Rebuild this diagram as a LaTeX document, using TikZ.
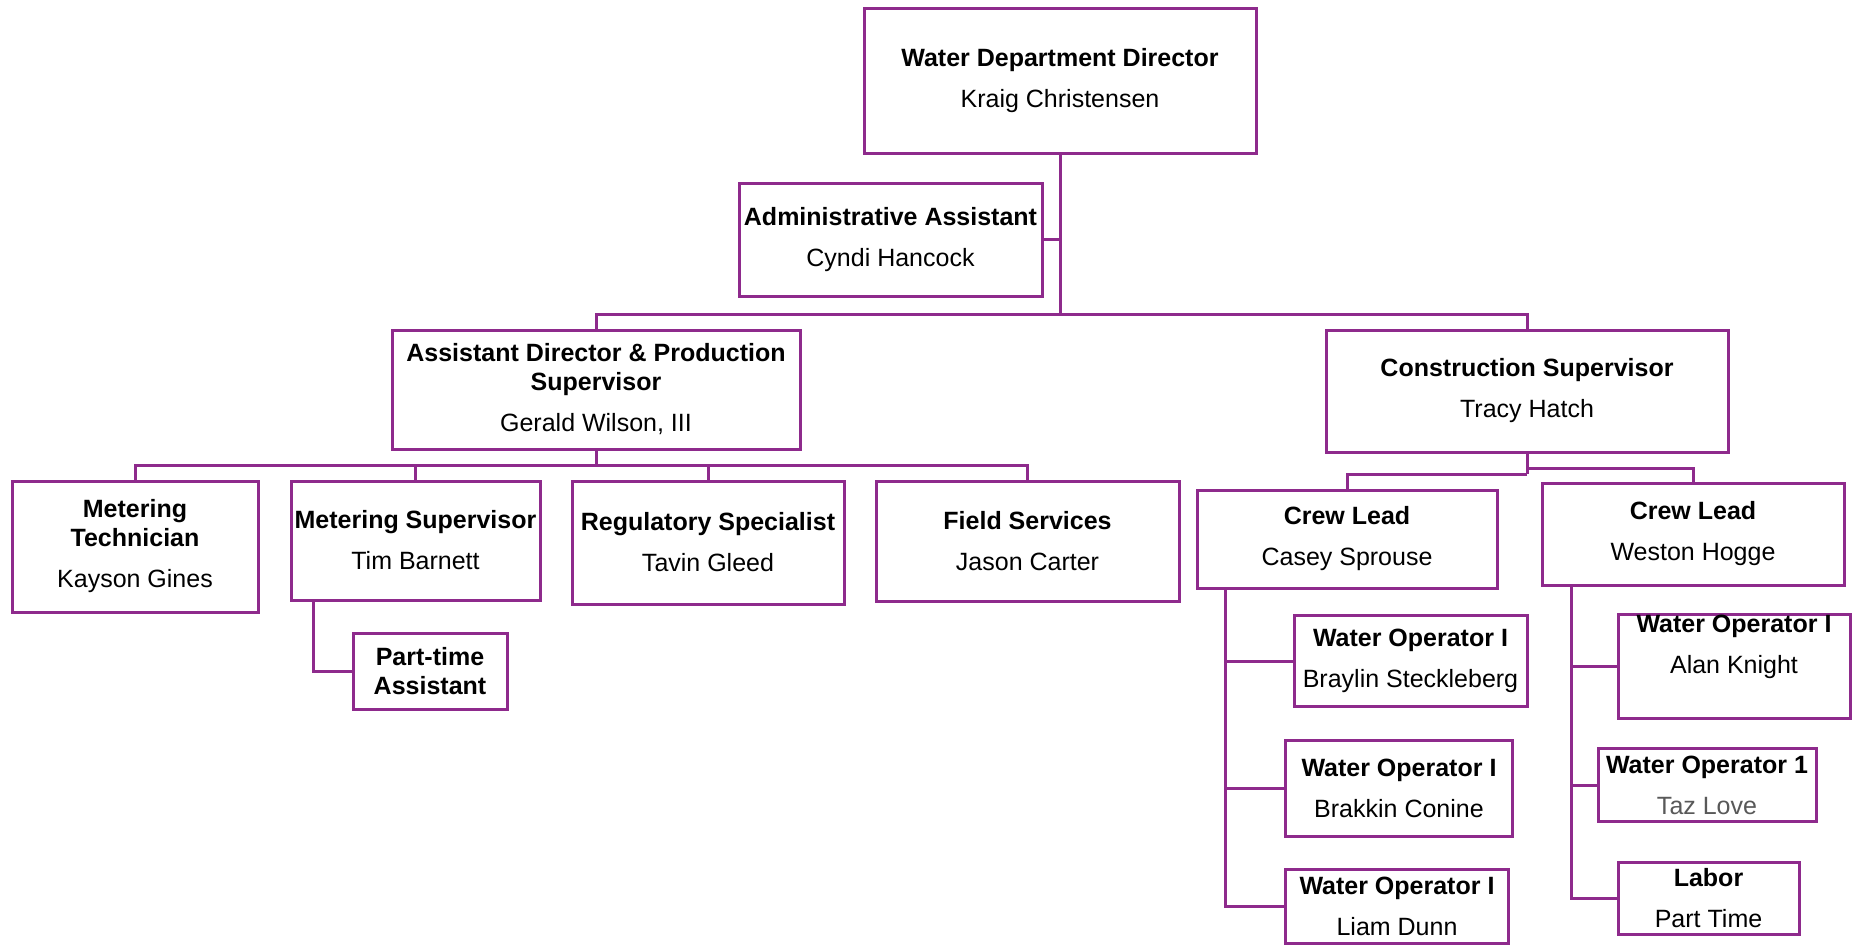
\documentclass[tikz,border=0pt]{standalone}
\usepackage{fontspec}
\setmainfont{Liberation Sans}
\newcommand{\seat}[2]{\bfseries #1\\[12pt]\mdseries #2}
\newcommand{\seattwo}[3]{\bfseries #1\\\bfseries #2\\[12pt]\mdseries #3}
\begin{document}
\begin{tikzpicture}[x=1pt, y=-1pt,
    post/.style={draw=wpurple, line width=3pt, fill=white, align=center, inner sep=0pt,
                 font=\fontsize{25}{29}\selectfont},
    link/.style={draw=wpurple, line width=3pt}]
  \definecolor{wpurple}{HTML}{8E2A8C}
  \useasboundingbox (0,0) rectangle (1856,945);
  % director and office
  \node[post, minimum width=392pt, minimum height=145pt] (dir) at (1060,80.5) {\seat{Water Department Director}{Kraig Christensen}};
  \node[post, minimum width=303pt, minimum height=113pt] (admin) at (890.5,239.5) {\seat{Administrative Assistant}{Cyndi Hancock}};
  % second level
  \node[post, minimum width=408pt, minimum height=119pt] (ad) at (596,389.5) {\seattwo{Assistant Director \& Production}{Supervisor}{Gerald Wilson, III}};
  \node[post, minimum width=402pt, minimum height=122pt] (cs) at (1527,391) {\seat{Construction Supervisor}{Tracy Hatch}};
  % production side
  \node[post, minimum width=246pt, minimum height=131pt] (mt) at (135,546.5) {\seattwo{Metering}{Technician}{Kayson Gines}};
  \node[post, minimum width=249pt, minimum height=119pt] (ms) at (415.5,540.5) {\seat{Metering Supervisor}{Tim Barnett}};
  \node[post, minimum width=272pt, minimum height=123pt] (rs) at (708,542.5) {\seat{Regulatory Specialist}{Tavin Gleed}};
  \node[post, minimum width=303pt, minimum height=120pt] (fs) at (1027.5,541) {\seat{Field Services}{Jason Carter}};
  \node[post, minimum width=154pt, minimum height=76pt, font=\fontsize{25}{29}\selectfont\bfseries] (pta) at (430,671) {Part-time\\Assistant};
  % construction side
  \node[post, minimum width=300pt, minimum height=98pt] (cl1) at (1347,539) {\seat{Crew Lead}{Casey Sprouse}};
  \node[post, minimum width=302pt, minimum height=102pt] (cl2) at (1693,534) {\seat{Crew Lead}{Weston Hogge}};
  \node[post, minimum width=233pt, minimum height=91pt] (wo1) at (1410.5,661) {\seat{Water Operator I}{Braylin Steckleberg}};
  \node[post, minimum width=227pt, minimum height=96pt] (wo2) at (1399,788) {\seat{Water Operator I}{Brakkin Conine}};
  \node[post, minimum width=223pt, minimum height=74pt] (wo3) at (1397,906) {\seat{Water Operator I}{Liam Dunn}};
  \node[post, minimum width=232pt, minimum height=104pt] (wo4) at (1734,666) {};
  \node[align=center, inner sep=0pt, font=\fontsize{25}{29}\selectfont] at ([yshift=19pt]wo4.center) {\seat{Water Operator I}{Alan Knight}};
  \node[post, minimum width=218pt, minimum height=73pt] (wo5) at (1707,785) {\seat{Water Operator 1}{\color{black!65}Taz Love}};
  \node[post, minimum width=181pt, minimum height=72pt] (lab) at (1708.5,898) {\seat{Labor}{Part Time}};
  % reporting lines
  \coordinate (topbus) at (1060,314);
  \coordinate (adbus) at (596,465);
  \coordinate (csl) at (1527,474);
  \coordinate (csr) at (1527,468);
  \draw[link] (dir.south) -- (topbus);
  \draw[link] (admin.east) -- (admin.east -| dir.south);
  \draw[link] (ad.north) |- (topbus);
  \draw[link] (cs.north) |- (topbus);
  \draw[link] (ad.south) -- (adbus);
  \foreach \n in {mt,ms,rs,fs} \draw[link] (\n.north) |- (adbus);
  \draw[link] ([xshift=24pt]ms.south west) |- (pta.west);
  \draw[link] (cs.south) -- (csl);
  \draw[link] (cl1.north) |- (csl);
  \draw[link] (cl2.north) |- (csr);
  \foreach \n in {wo1,wo2,wo3} \draw[link] ([xshift=30pt]cl1.south west) |- (\n.west);
  \foreach \n in {wo4,wo5,lab} \draw[link] ([xshift=31pt]cl2.south west) |- (\n.west);
\end{tikzpicture}
\end{document}
